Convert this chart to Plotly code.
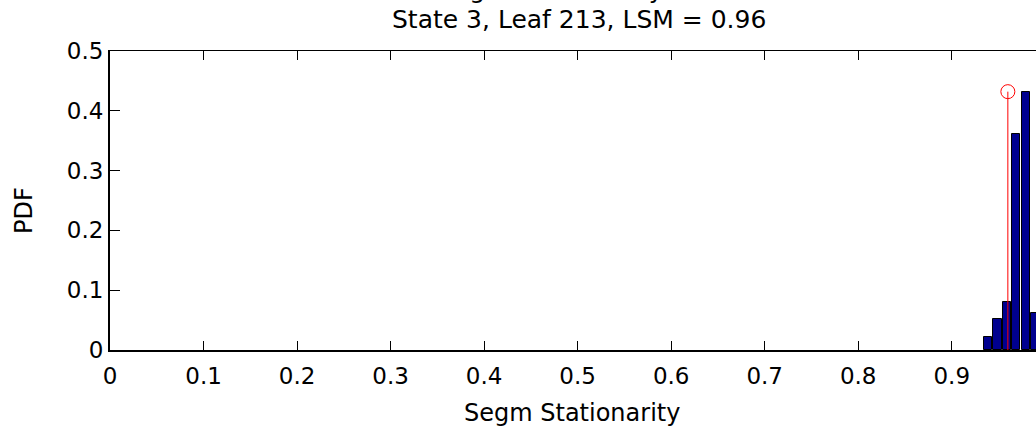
import plotly.graph_objects as go

# Histogram of segment stationarity (bin centres and PDF heights)
bin_centers = [0.939, 0.949, 0.959, 0.969, 0.979, 0.989]
pdf_values = [0.022, 0.052, 0.080, 0.361, 0.432, 0.062]

# Leaf stationarity measure marker
lsm_value = 0.96
lsm_height = 0.432

x_ticks = [0, 0.1, 0.2, 0.3, 0.4, 0.5, 0.6, 0.7, 0.8, 0.9, 1.0]
y_ticks = [0, 0.1, 0.2, 0.3, 0.4, 0.5]

FONT = "DejaVu Sans"
X_MAX = 0.9901

fig = go.Figure()

fig.add_trace(go.Bar(
    x=bin_centers, y=pdf_values, width=0.0088,
    marker=dict(color="#00008F", line=dict(color="black", width=1)),
    showlegend=False,
))

fig.add_trace(go.Scatter(
    x=[lsm_value, lsm_value], y=[0, lsm_height], mode="lines",
    line=dict(color="red", width=1), showlegend=False,
))
fig.add_trace(go.Scatter(
    x=[lsm_value], y=[lsm_height], mode="markers",
    marker=dict(symbol="circle-open", size=14, color="red", line=dict(width=1)),
    showlegend=False,
))

# invisible trace so the top (box) axis gets drawn
fig.add_trace(go.Scatter(
    x=[0.5], y=[0.25], xaxis="x2", mode="markers",
    marker=dict(opacity=0), hoverinfo="skip", showlegend=False,
))

fig.update_layout(
    width=1036, height=431,
    margin=dict(l=110, r=0, t=51, b=81),
    paper_bgcolor="white", plot_bgcolor="white",
    font=dict(family=FONT, size=23, color="black"),
    bargap=0,
    xaxis=dict(
        range=[0, X_MAX], tickvals=x_ticks, ticktext=[f"{v:g}" for v in x_ticks],
        ticks="inside", ticklen=9, tickwidth=1, tickcolor="black",
        showline=True, linecolor="black", linewidth=2,
        showgrid=False, zeroline=False, ticklabelstandoff=4,
        tickfont=dict(family=FONT, size=23),
    ),
    xaxis2=dict(
        range=[0, X_MAX], tickvals=x_ticks, overlaying="x", side="top",
        ticks="inside", ticklen=9, tickwidth=1, tickcolor="black",
        showline=True, linecolor="black", linewidth=1,
        showgrid=False, zeroline=False, showticklabels=False,
    ),
    yaxis=dict(
        range=[0, 0.5], tickvals=y_ticks, ticktext=[f"{v:g}" for v in y_ticks],
        ticks="inside", ticklen=10, tickwidth=1, tickcolor="black",
        showline=True, linecolor="black", linewidth=2,
        showgrid=False, zeroline=False,
        tickfont=dict(family=FONT, size=23),
    ),
)

annotations = [
    dict(text="Segm Stationarity PDF", x=0.5065, y=1.2060),
    dict(text="State 3, Leaf 213, LSM = 0.96", x=0.5065, y=1.1037),
    dict(text="Segm Stationarity", x=0.4989, y=-0.2107, size=24),
    dict(text="PDF", x=-0.0929, y=0.468, size=24, textangle=-90),
]
for a in annotations:
    fig.add_annotation(
        text=a["text"], x=a["x"], y=a["y"], xref="paper", yref="paper",
        xanchor="center", yanchor="middle", showarrow=False,
        textangle=a.get("textangle", 0),
        font=dict(family=FONT, size=a.get("size", 25), color="black"),
    )

# partially visible tick label at x = 1
fig.add_annotation(
    text="1", x=1.0 / X_MAX, y=-0.087, xref="paper", yref="paper",
    xanchor="center", yanchor="middle", showarrow=False,
    font=dict(family=FONT, size=23, color="black"),
)

fig.write_html("out.html")
